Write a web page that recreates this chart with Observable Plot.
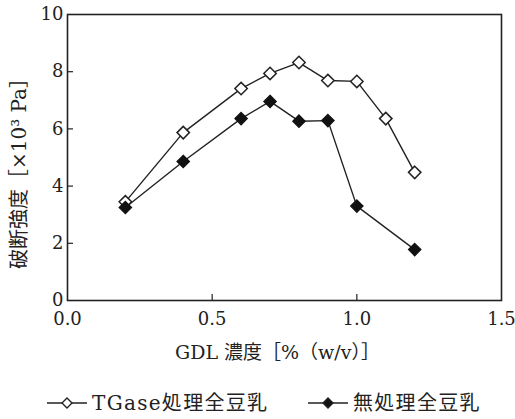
<!DOCTYPE html>
<html>
<head>
<meta charset="utf-8">
<script src="https://cdn.jsdelivr.net/npm/d3@7"></script>
<script src="https://cdn.jsdelivr.net/npm/@observablehq/plot@0.6"></script>
<style>
  html, body { margin: 0; padding: 0; background: #fff; }
  #chart { width: 515px; }
  .legend { position: relative; height: 44px; font-family: "DejaVu Serif", "Noto Sans CJK JP", serif; font-size: 20px; color: #222; }
  .legend .item { position: absolute; top: 17px; display: flex; align-items: center; line-height: 22px; }
  .legend svg { margin-right: 5px; }
  .legend span { letter-spacing: 1.3px; }
</style>
</head>
<body>
<div id="chart"></div>
<script>
// GDL concentration [% (w/v)]
const gdl = [0.2, 0.4, 0.6, 0.7, 0.8, 0.9, 1.0, 1.1, 1.2];
// TGase-treated whole soy milk breaking strength [x10^3 Pa]
const tgaseValues = [3.45, 5.87, 7.41, 7.94, 8.32, 7.69, 7.66, 6.36, 4.48];
// Untreated whole soy milk
const untreatedX = [0.2, 0.4, 0.6, 0.7, 0.8, 0.9, 1.0, 1.2];
const untreatedValues = [3.25, 4.86, 6.36, 6.96, 6.27, 6.29, 3.30, 1.78];

const xTicks = [0, 0.5, 1.0, 1.5];
const yTicks = [0, 2, 4, 6, 8, 10];
const xLabel = "GDL 濃度［%（w/v）］";
const yLabel = "破断強度［×10³ Pa］";
const series = ["TGase処理全豆乳", "無処理全豆乳"];

const tgase = gdl.map((x, i) => ({x, y: tgaseValues[i]}));
const untreated = untreatedX.map((x, i) => ({x, y: untreatedValues[i]}));

const serif = "'DejaVu Serif', 'Noto Sans CJK JP', serif";

const chart = Plot.plot({
  width: 515,
  height: 375,
  marginLeft: 67,
  marginRight: 14,
  marginTop: 14,
  marginBottom: 75,
  style: {fontFamily: serif, fontSize: "18px", color: "#222", background: "#fff"},
  x: {domain: [0, 1.5], ticks: xTicks, tickFormat: d3.format(".1f")},
  y: {domain: [0, 10], ticks: yTicks},
  marks: [
    Plot.axisX({ticks: xTicks, tickFormat: d3.format(".1f"), tickSize: 0, tickPadding: 12, label: null, fontSize: 18}),
    Plot.axisX({ticks: [0.5, 1.0], tickSize: -6, text: null, label: null, strokeWidth: 1.2}),
    Plot.axisY({ticks: yTicks, tickSize: 0, tickPadding: 4, label: null, fontSize: 18}),
    Plot.axisY({ticks: [2, 4, 6, 8], tickSize: -6, text: null, label: null, strokeWidth: 1.2}),
    Plot.frame({stroke: "#222", strokeWidth: 1.6}),
    Plot.line(tgase, {x: "x", y: "y", stroke: "#222", strokeWidth: 1.4}),
    Plot.line(untreated, {x: "x", y: "y", stroke: "#222", strokeWidth: 1.4}),
    Plot.dot(tgase, {x: "x", y: "y", symbol: "diamond2", r: 5.6, fill: "#fff", stroke: "#222", strokeWidth: 1.5}),
    Plot.dot(untreated, {x: "x", y: "y", symbol: "diamond2", r: 5.6, fill: "#111", stroke: "#111", strokeWidth: 1.2}),
    Plot.text([xLabel], {frameAnchor: "bottom", lineAnchor: "middle", textAnchor: "middle", dx: -7, dy: 52, fontSize: 19, fill: "#222"}),
    Plot.text([yLabel], {frameAnchor: "left", lineAnchor: "middle", textAnchor: "middle", rotate: -90, dx: -48, dy: 11, fontSize: 20, fill: "#222"})
  ]
});
document.getElementById("chart").appendChild(chart);

// Legend
const legend = d3.select("body").append("div").attr("class", "legend");
const items = [
  {name: series[0], left: 47, fill: "#fff"},
  {name: series[1], left: 308, fill: "#111"}
];
items.forEach(it => {
  const div = legend.append("div").attr("class", "item").style("left", it.left + "px");
  const s = div.append("svg").attr("width", 40).attr("height", 20);
  s.append("line").attr("x1", 0).attr("x2", 40).attr("y1", 10).attr("y2", 10).attr("stroke", "#222").attr("stroke-width", 1.6);
  s.append("path").attr("d", "M20,5L25,10L20,15L15,10Z").attr("fill", it.fill).attr("stroke", "#222").attr("stroke-width", 1.4);
  div.append("span").text(it.name);
});
</script>
</body>
</html>
